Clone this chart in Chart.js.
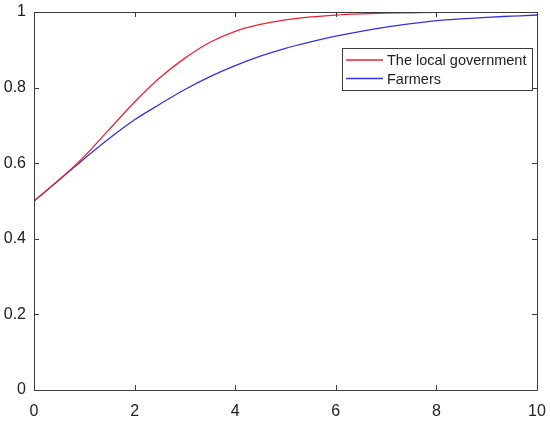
<!DOCTYPE html>
<html lang="en">
<head>
    <meta charset="UTF-8">
    <title>The local government vs Farmers</title>
    <style>
        html, body { margin: 0; padding: 0; background: #fff; }
        #wrap { width: 550px; height: 423px; }
    </style>
</head>
<body>
<div id="wrap"><canvas id="myChart" width="550" height="423"></canvas></div>

<script src="https://cdn.jsdelivr.net/npm/chart.js@4.4.0/dist/chart.umd.min.js"></script>
<script>
// time values shared by both curves
var times = [0, 0.5, 1, 1.5, 2, 2.5, 3, 3.5, 4, 4.5, 5, 5.5, 6, 6.5, 7, 7.5, 8, 8.5, 9, 9.5, 10];

// probabilities
var govValues = [0.5, 0.556, 0.618, 0.69, 0.762, 0.826, 0.878, 0.92, 0.949, 0.967, 0.979, 0.987, 0.992, 0.995, 0.997, 0.998, 0.999, 0.9995, 1.0, 1.0, 1.0];
var farmerValues = [0.5, 0.556, 0.612, 0.666, 0.715, 0.756, 0.795, 0.829, 0.858, 0.883, 0.904, 0.921, 0.936, 0.949, 0.96, 0.969, 0.977, 0.982, 0.986, 0.989, 0.992];

var seriesNames = ['The local government', 'Farmers'];
var xTicks = [0, 2, 4, 6, 8, 10];
var yTicks = [0, 0.2, 0.4, 0.6, 0.8, 1];

var axisColor = '#3c3c3c';
var fontName = '"Liberation Sans", Arial, sans-serif';

function toPoints(vals) {
    return times.map(function(t, i) { return { x: t, y: vals[i] }; });
}

// MATLAB style box with inward ticks on every side, plus legend inside the axes
var boxPlugin = {
    id: 'matlabBox',
    afterDraw: function(chart) {
        var ctx = chart.ctx;
        var a = chart.chartArea;
        var xs = chart.scales.x, ys = chart.scales.y;
        ctx.save();
        ctx.strokeStyle = axisColor;
        ctx.lineWidth = 1;
        ctx.beginPath();
        ctx.rect(Math.round(a.left) + 0.5, Math.round(a.top) + 0.5,
                 Math.round(a.right - a.left), Math.round(a.bottom - a.top));
        var len = 5;
        xTicks.forEach(function(v) {
            var px = Math.round(xs.getPixelForValue(v)) + 0.5;
            ctx.moveTo(px, a.bottom); ctx.lineTo(px, a.bottom - len);
            ctx.moveTo(px, a.top); ctx.lineTo(px, a.top + len);
        });
        yTicks.forEach(function(v) {
            var py = Math.round(ys.getPixelForValue(v)) + 0.5;
            ctx.moveTo(a.left, py); ctx.lineTo(a.left + len, py);
            ctx.moveTo(a.right, py); ctx.lineTo(a.right - len, py);
        });
        ctx.stroke();

        // legend box
        var bx = 342.5, by = 48.5, bw = 190, bh = 42;
        ctx.fillStyle = '#fff';
        ctx.fillRect(bx, by, bw, bh);
        ctx.strokeRect(bx, by, bw, bh);
        ctx.font = '14.5px ' + fontName;
        ctx.textBaseline = 'middle';
        chart.data.datasets.forEach(function(ds, i) {
            var ly = 60 + i * 18.5;
            ctx.strokeStyle = ds.borderColor;
            ctx.lineWidth = 1.3;
            ctx.beginPath();
            ctx.moveTo(346, ly); ctx.lineTo(383, ly);
            ctx.stroke();
            ctx.fillStyle = '#222';
            ctx.fillText(ds.label, 387, ly + 1);
        });
        ctx.restore();
    }
};

var ctx = document.getElementById('myChart').getContext('2d');
var myChart = new Chart(ctx, {
    type: 'line',
    data: {
        datasets: [
            {
                label: seriesNames[0],
                data: toPoints(govValues),
                borderColor: '#ee2233',
                borderWidth: 1.3,
                pointRadius: 0,
                cubicInterpolationMode: 'monotone',
                fill: false
            },
            {
                label: seriesNames[1],
                data: toPoints(farmerValues),
                borderColor: '#3333dd',
                borderWidth: 1.3,
                pointRadius: 0,
                cubicInterpolationMode: 'monotone',
                fill: false
            }
        ]
    },
    options: {
        responsive: false,
        animation: false,
        layout: { padding: { top: 12, right: 13, left: 0, bottom: 0 } },
        plugins: {
            legend: { display: false },
            tooltip: { enabled: false }
        },
        scales: {
            x: {
                type: 'linear',
                min: 0,
                max: 10,
                afterFit: function(s) { s.height = 33; s.paddingLeft = 0; s.paddingRight = 0; },
                afterBuildTicks: function(s) { s.ticks = xTicks.map(function(v) { return { value: v }; }); },
                grid: { display: false, drawTicks: false },
                border: { display: false },
                ticks: {
                    padding: 12,
                    color: '#222',
                    font: { family: fontName, size: 16 },
                    maxRotation: 0
                }
            },
            y: {
                min: 0,
                max: 1,
                afterFit: function(s) { s.width = 34; s.paddingTop = 0; s.paddingBottom = 0; },
                afterBuildTicks: function(s) { s.ticks = yTicks.map(function(v) { return { value: v }; }); },
                grid: { display: false, drawTicks: false },
                border: { display: false },
                ticks: {
                    padding: 8,
                    color: '#222',
                    font: { family: fontName, size: 16 },
                    callback: function(v) { return String(Math.round(v * 10) / 10); }
                }
            }
        }
    },
    plugins: [boxPlugin]
});
</script>
</body>
</html>
